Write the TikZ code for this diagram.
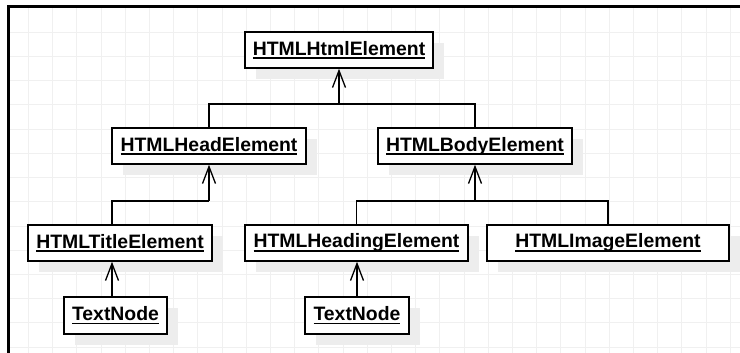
\documentclass[tikz,border=0pt]{standalone}
\usepackage{fontspec}
\setmainfont{Liberation Sans}
\usepackage{tikz}
\usetikzlibrary{arrows.meta,shadows}
\newcommand{\uln}[1]{\setbox0\hbox{#1}\rlap{\rule[-3.6pt]{\wd0}{1.5pt}}\box0}

\tikzset{
  cls/.style={draw,line width=1.5pt,fill=white,minimum height=36pt,inner sep=0pt,
    font=\fontsize{19.4}{23}\selectfont\bfseries,
    drop shadow={shadow xshift=11pt,shadow yshift=-11pt,fill=black!7,opacity=1}},
  gen/.style={line width=1.3pt,-{Straight Barb[length=17pt,width=13pt]}},
  wire/.style={line width=1.3pt},
  gridln/.style={black!6,line width=0.8pt}
}

\begin{document}
\begin{tikzpicture}[x=1pt,y=-1pt]
%                 html
%               /      \
%           head        body
%            |         /    \
%          title   heading   image
%            |        |
%          text     text
	\useasboundingbox (0,0) rectangle (740,353);
	\fill[white] (0,0) rectangle (740,353);
	\foreach \gx in {28.3,52.5,...,740} \draw[gridln] (\gx,8) -- (\gx,353);
	\foreach \gy in {32.3,56.5,...,353} \draw[gridln] (8,\gy) -- (740,\gy);
	\draw[line width=3pt] (8,353) -- (8,7) -- (740,7);

	\node[cls,minimum width=188pt] (html) at (339,50) {\uln{HTMLHtmlElement}};
	\node[cls,minimum width=194pt] (head) at (209,146) {\uln{HTMLHeadElement}};
	\node[cls,minimum width=194pt] (body) at (475,146) {\uln{HTMLBodyElement}};
	\node[cls,minimum width=184pt] (title) at (120,243) {\uln{HTMLTitleElement}};
	\node[cls,minimum width=223pt] (heading) at (356.5,243) {\uln{HTMLHeadingElement}};
	\node[cls,minimum width=242pt] (image) at (608,243) {\uln{HTMLImageElement}};
	\node[cls,minimum width=103pt,minimum height=37pt] (txtA) at (115.5,315.5) {\uln{TextNode}};
	\node[cls,minimum width=104pt,minimum height=37pt] (txtB) at (357,315.5) {\uln{TextNode}};

	\coordinate (busT) at (339,104);
	\coordinate (busL) at (209,201);
	\coordinate (busR) at (475,201);
	\coordinate (stemL) at (112,0);

	\draw[wire] (head.north) |- (busT) -| (body.north);
	\draw[gen] (busT) -- (html.south);
	\draw[wire] (title.north -| stemL) |- (busL);
	\draw[gen] (busL) -- (head.south);
	\draw[wire] (heading.north) |- (busR) -| (image.north);
	\draw[gen] (busR) -- (body.south);
	\draw[gen] (txtA.north -| stemL) -- (title.south -| stemL);
	\draw[gen] (txtB.north) -- (heading.south -| txtB.north);
\end{tikzpicture}
\end{document}
